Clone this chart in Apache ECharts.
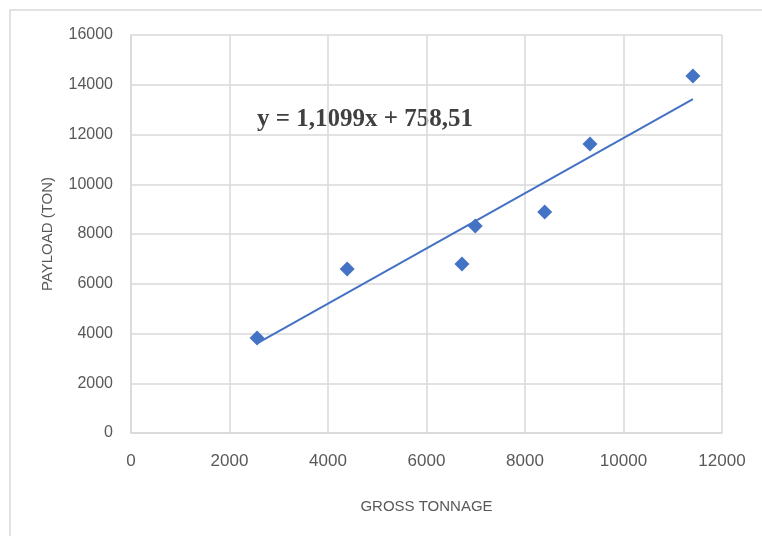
<!DOCTYPE html>
<html>
<head>
<meta charset="utf-8">
<script src="https://cdn.jsdelivr.net/npm/echarts@6/dist/echarts.min.js"></script>
<style>
  html, body { margin: 0; padding: 0; background: #ffffff; }
  #chart { width: 762px; height: 536px; }
</style>
</head>
<body>
<div id="chart"></div>
<script>
// Gross tonnage vs payload for the vessel sample
const grossTonnage = [2560, 4390, 6720, 6990, 8400, 9320, 11410];
const payload = [3820, 6590, 6790, 8320, 8880, 11620, 14350];

// Linear trendline coefficients (payload = slope * GT + intercept)
const trendSlope = 1.1099;
const trendIntercept = 758.51;
const trendLabel = 'y = 1,1099x + 758,51';

const xTicks = { min: 0, max: 12000, interval: 2000 };
const yTicks = { min: 0, max: 16000, interval: 2000 };

const points = grossTonnage.map((x, i) => [x, payload[i]]);
const xMin = Math.min(...grossTonnage);
const xMax = Math.max(...grossTonnage);
const trend = [xMin, xMax].map(x => [x, trendSlope * x + trendIntercept]);

const blue = '#4472C4';
const labelGray = '#595959';
const gridGray = '#d9d9d9';

const chart = echarts.init(document.getElementById('chart'), null, { renderer: 'canvas' });
chart.setOption({
  animation: false,
  backgroundColor: '#ffffff',
  graphic: [
    {
      type: 'rect',
      shape: { x: 10, y: 10, width: 800, height: 600 },
      style: { fill: 'none', stroke: gridGray, lineWidth: 1.5 },
      silent: true
    },
    {
      type: 'text',
      left: 257,
      top: 107,
      style: {
        text: trendLabel,
        font: 'bold 25px "Liberation Serif", "Times New Roman", serif',
        fill: '#404040'
      }
    }
  ],
  grid: { left: 131, right: 40, top: 35, bottom: 103 },
  xAxis: {
    type: 'value',
    min: xTicks.min,
    max: xTicks.max,
    interval: xTicks.interval,
    name: 'GROSS TONNAGE',
    nameLocation: 'middle',
    nameGap: 66,
    nameTextStyle: { color: labelGray, fontSize: 15, fontFamily: '"Liberation Sans Narrow", "Liberation Sans", sans-serif' },
    axisLine: { show: true, lineStyle: { color: gridGray, width: 1.5 } },
    axisTick: { show: false },
    axisLabel: { color: labelGray, fontSize: 17, margin: 20, formatter: v => String(v), fontFamily: '"Liberation Sans", sans-serif' },
    splitLine: { show: true, lineStyle: { color: gridGray, width: 1.5 } }
  },
  yAxis: {
    type: 'value',
    min: yTicks.min,
    max: yTicks.max,
    interval: yTicks.interval,
    name: 'PAYLOAD (TON)',
    nameLocation: 'middle',
    nameGap: 76,
    nameTextStyle: { color: labelGray, fontSize: 15, fontFamily: '"Liberation Sans", sans-serif' },
    axisLine: { show: true, lineStyle: { color: gridGray, width: 1.5 } },
    axisTick: { show: false },
    axisLabel: { color: labelGray, fontSize: 16, margin: 18, formatter: v => String(v), fontFamily: '"Liberation Sans Narrow", "Liberation Sans", sans-serif' },
    splitLine: { show: true, lineStyle: { color: gridGray, width: 1.5 } }
  },
  series: [
    {
      type: 'line',
      data: trend,
      showSymbol: false,
      symbol: 'none',
      lineStyle: { color: blue, width: 2 },
      z: 2
    },
    {
      type: 'scatter',
      data: points,
      symbol: 'diamond',
      symbolSize: 15,
      itemStyle: { color: blue, opacity: 1 },
      z: 3
    }
  ]
});
</script>
</body>
</html>
